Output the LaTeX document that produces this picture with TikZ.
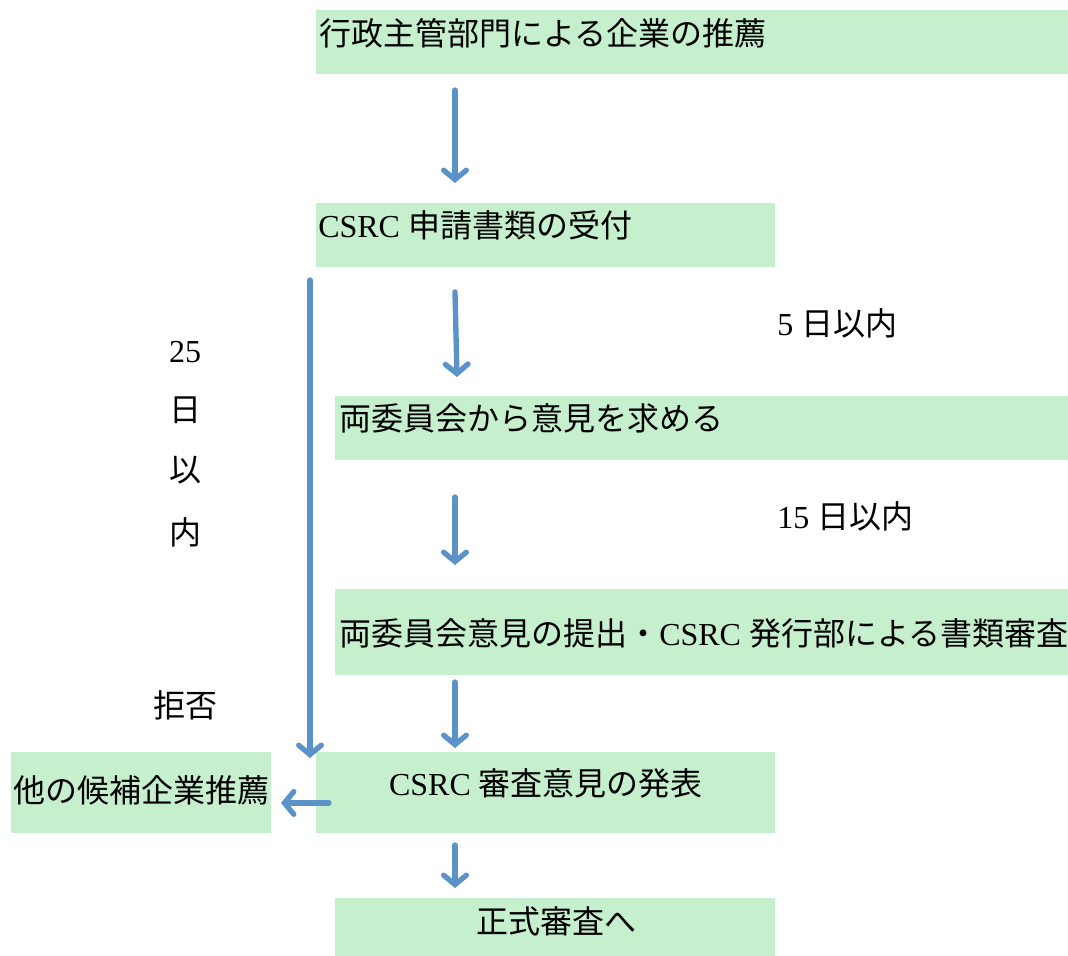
\documentclass[tikz,border=0pt]{standalone}
\usepackage{fontspec}
\setmainfont{Liberation Serif}
\newfontfamily\cjk{Noto Sans CJK JP}
\usetikzlibrary{arrows.meta,fit}
\definecolor{boxgreen}{HTML}{C6EFCE}
\definecolor{arrowblue}{HTML}{5B93C8}
\begin{document}
\begin{tikzpicture}[x=0.75pt,y=-0.75pt,
  box/.style={fill=boxgreen, draw=none, inner sep=0pt},
  lbl/.style={font=\fontsize{24}{28}\selectfont, inner sep=0pt, text=black},
  flow/.style={draw=arrowblue, line width=4pt, line cap=round,
    -{Straight Barb[length=7pt,width=17pt,line cap=round]}}]
\useasboundingbox (0,0) rectangle (1068,956);
% boxes
\node[box, fit={(316,10) (1068,74)}] (b1) {};
\node[box, fit={(316,203) (775,267)}] (b2) {};
\node[box, fit={(335,396) (1068,460)}] (b3) {};
\node[box, fit={(335,589) (1068,675)}] (b4) {};
\node[box, fit={(316,752) (775,833)}] (b5) {};
\node[box, fit={(11,752) (271,833)}] (b6) {};
\node[box, fit={(335,898) (775,956)}] (b7) {};
% texts
\node[lbl, anchor=west] (t1) at (319,33) {\cjk 行政主管部門による企業の推薦};
\node[lbl, anchor=west] (t2) at (318,225) {CSRC \cjk 申請書類の受付};
\node[lbl, anchor=west] (t3) at (339,418) {\cjk 両委員会から意見を求める};
\node[lbl, anchor=west] (t4) at (339,633) {{\cjk 両委員会意見の提出・}CSRC {\cjk 発行部による書類審査}};
\node[lbl] (t5) at (546,783) {CSRC {\cjk 審査意見の発表}};
\node[lbl, anchor=west] (t6) at (13,790) {\cjk 他の候補企業推薦};
\node[lbl] (t7) at (556,921) {\cjk 正式審査へ};
% side labels
\node[lbl, anchor=west] (l1) at (777,323) {5 {\cjk 日以内}};
\node[lbl, anchor=west] (l2) at (777,516) {15 {\cjk 日以内}};
\node[lbl] (l3a) at (185,352) {25};
\node[lbl] (l3b) at (185,410) {\cjk 日};
\node[lbl] (l3c) at (185,470) {\cjk 以};
\node[lbl] (l3d) at (185,532) {\cjk 内};
\node[lbl] (l4) at (185,705) {\cjk 拒否};
% arrow end points
\coordinate (a1s) at (455,90);  \coordinate (a1e) at (455,183);
\coordinate (a2s) at (455,292); \coordinate (a2e) at (457,377);
\coordinate (a3s) at (455,497); \coordinate (a3e) at (455,565);
\coordinate (a4s) at (455,682); \coordinate (a4e) at (455,748);
\coordinate (a5s) at (455,845); \coordinate (a5e) at (455,888);
\coordinate (a6s) at (310,280); \coordinate (a6e) at (310,758);
\coordinate (a7s) at (329,803); \coordinate (a7e) at (281,803);
\draw[flow] (a1s) -- (a1e);
\draw[flow] (a2s) -- (a2e);
\draw[flow] (a3s) -- (a3e);
\draw[flow] (a4s) -- (a4e);
\draw[flow] (a5s) -- (a5e);
\draw[flow] (a6s) -- (a6e);
\draw[flow] (a7s) -- (a7e);
\end{tikzpicture}
\end{document}
